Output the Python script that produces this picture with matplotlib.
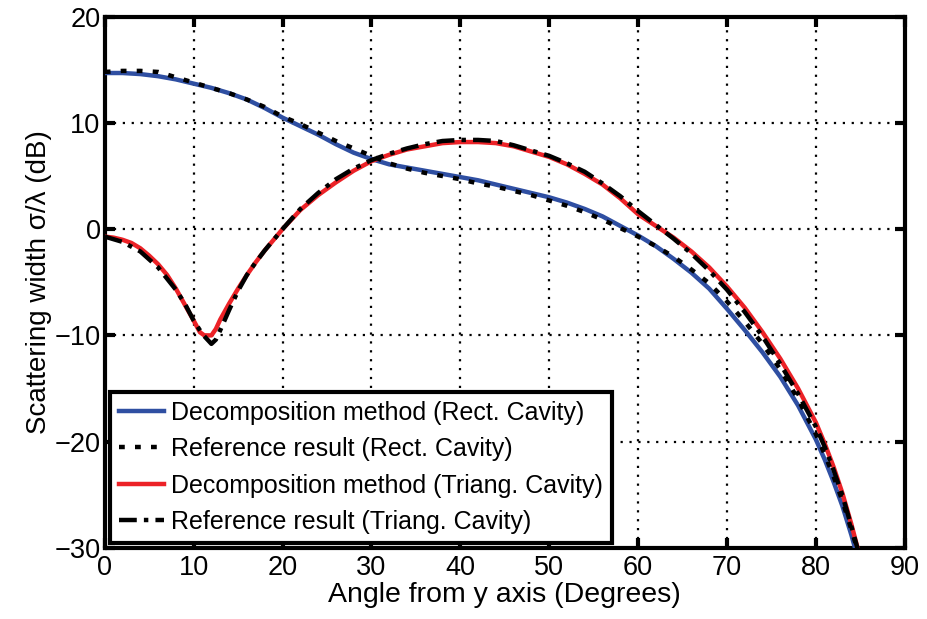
import matplotlib
matplotlib.use("Agg")
import matplotlib.pyplot as plt

plt.rcParams['font.family'] = ['Liberation Sans', 'DejaVu Sans']

# Decomposition method, rectangular cavity
rect_x = [0, 2, 4, 6, 8, 10, 12, 14, 16, 18, 20, 22, 24, 26, 28, 30, 32, 34, 36, 38, 40,
          42, 44, 46, 48, 50, 52, 54, 56, 58, 60, 62, 64, 66, 68, 70, 72, 74, 76, 78, 80,
          81, 82, 83, 84, 84.5]
rect_dec = [14.7, 14.7, 14.6, 14.4, 14.1, 13.7, 13.3, 12.8, 12.2, 11.4, 10.5, 9.7, 8.9,
            8.0, 7.2, 6.6, 6.1, 5.8, 5.5, 5.2, 4.9, 4.6, 4.2, 3.8, 3.4, 3.0, 2.5, 1.9, 1.2,
            0.3, -0.6, -1.6, -2.8, -4.1, -5.6, -7.5, -9.5, -11.6, -13.9, -16.6, -19.8,
            -21.7, -23.8, -26.1, -28.8, -30.3]

# Reference result, rectangular cavity
rect_ref_x = [0, 2, 4, 6, 8, 10, 12, 14, 16, 18, 20, 22, 24, 26, 28, 30, 32, 34, 36, 38,
              40, 42, 44, 46, 48, 50, 52, 54, 56, 58, 60, 62, 64, 66, 68, 70, 72, 74, 76,
              78, 80, 81, 82, 83, 84, 84.8]
rect_ref = [14.8, 14.9, 14.9, 14.8, 14.3, 13.8, 13.3, 12.8, 12.2, 11.5, 10.6, 9.9, 9.1,
            8.3, 7.6, 6.9, 6.2, 5.7, 5.3, 5.0, 4.7, 4.3, 4.0, 3.6, 3.2, 2.7, 2.2, 1.6, 0.9,
            0.1, -0.7, -1.6, -2.6, -3.8, -5.1, -6.8, -8.7, -10.8, -13.2, -16.0, -19.3,
            -21.2, -23.3, -25.6, -28.3, -30.5]

# Decomposition method, triangular cavity
tri_x = [0, 1, 2, 3, 4, 5, 6, 7, 8, 9, 10, 10.7, 11.2, 12, 12.5, 13, 14, 15, 16, 17, 18,
         19, 20, 22, 24, 26, 28, 30, 32, 34, 36, 38, 40, 42, 44, 46, 48, 50, 52, 54, 56,
         58, 60, 62, 64, 66, 68, 70, 72, 74, 76, 78, 80, 81, 82, 83, 84, 85]
tri_dec = [-0.7, -0.8, -1.0, -1.3, -1.8, -2.5, -3.3, -4.3, -5.6, -7.1, -8.6, -9.7, -10.0,
           -10.0, -9.4, -8.5, -7.0, -5.6, -4.3, -3.1, -2.0, -1.0, 0.0, 1.8, 3.2, 4.4, 5.5,
           6.4, 7.0, 7.5, 7.8, 8.1, 8.2, 8.2, 8.1, 7.8, 7.3, 6.8, 6.1, 5.2, 4.2, 2.9, 1.4,
           0.3, -0.8, -2.1, -3.6, -5.4, -7.4, -9.7, -12.2, -15.0, -18.2, -20.2, -22.4,
           -24.9, -27.8, -31.0]

# Reference result, triangular cavity
tri_ref_x = [0, 2, 4, 6, 8, 9, 10, 11, 12, 12.5, 13, 14, 15, 16, 17, 18, 19, 20, 22, 24,
             26, 28, 30, 32, 34, 36, 38, 40, 42, 44, 46, 48, 50, 52, 54, 56, 58, 60, 62,
             64, 66, 68, 70, 72, 74, 76, 78, 80, 81, 82, 83, 84, 85]
tri_ref = [-0.7, -1.2, -2.1, -3.6, -5.7, -7.0, -8.6, -9.9, -10.8, -10.4, -9.5, -7.6, -5.8,
           -4.3, -3.1, -2.0, -1.0, 0.0, 1.9, 3.4, 4.7, 5.7, 6.5, 7.1, 7.6, 8.0, 8.3, 8.4,
           8.4, 8.3, 7.9, 7.4, 6.9, 6.2, 5.4, 4.3, 3.1, 1.7, 0.4, -0.9, -2.3, -3.9, -5.7,
           -7.8, -10.1, -12.7, -15.5, -18.6, -20.5, -22.7, -25.1, -28.0, -31.0]

labels = ["Decomposition method (Rect. Cavity)",
          "Reference result (Rect. Cavity)",
          "Decomposition method (Triang. Cavity)",
          "Reference result (Triang. Cavity)"]

fig = plt.figure(figsize=(9.27, 6.19), dpi=100)
ax = fig.add_axes([0.113, 0.115, 0.863, 0.858])

ax.plot(rect_x, rect_dec, color='#2f4fa2', lw=3.2, label=labels[0], zorder=3)
ax.plot(rect_ref_x, rect_ref, color='k', lw=3.2, ls=(0, (1.3, 2.3)), label=labels[1], zorder=4)
ax.plot(tri_x, tri_dec, color='#ec2227', lw=3.2, label=labels[2], zorder=3)
ax.plot(tri_ref_x, tri_ref, color='k', lw=3.2, ls=(0, (4, 1.6, 1, 1.6)), label=labels[3], zorder=4)

ax.set_xlim(0, 90)
ax.set_ylim(-30, 20)
ax.set_xticks(range(0, 91, 10))
ax.set_yticks(range(-30, 21, 10))
ax.grid(True, color='k', ls=(0, (1, 3)), lw=1.6)
ax.tick_params(direction='in', length=7, width=3, labelsize=19.5, top=True, right=True)
ax.tick_params(axis='x', pad=5)
ax.tick_params(axis='y', pad=3)
for s in ax.spines.values():
    s.set_linewidth(3)

ax.set_xlabel("Angle from y axis (Degrees)", fontsize=20.5, labelpad=1)
ax.set_ylabel("Scattering width σ/λ (dB)", fontsize=20, labelpad=2)

leg = ax.legend(loc='lower left', fontsize=18, frameon=True, fancybox=False,
                borderaxespad=0.2, handlelength=1.8, handletextpad=0.3,
                labelspacing=0.5, borderpad=0.35)
leg.get_frame().set_edgecolor('k')
leg.get_frame().set_linewidth(3)
leg.get_frame().set_alpha(1)

fig.savefig("out.png", dpi=100)
